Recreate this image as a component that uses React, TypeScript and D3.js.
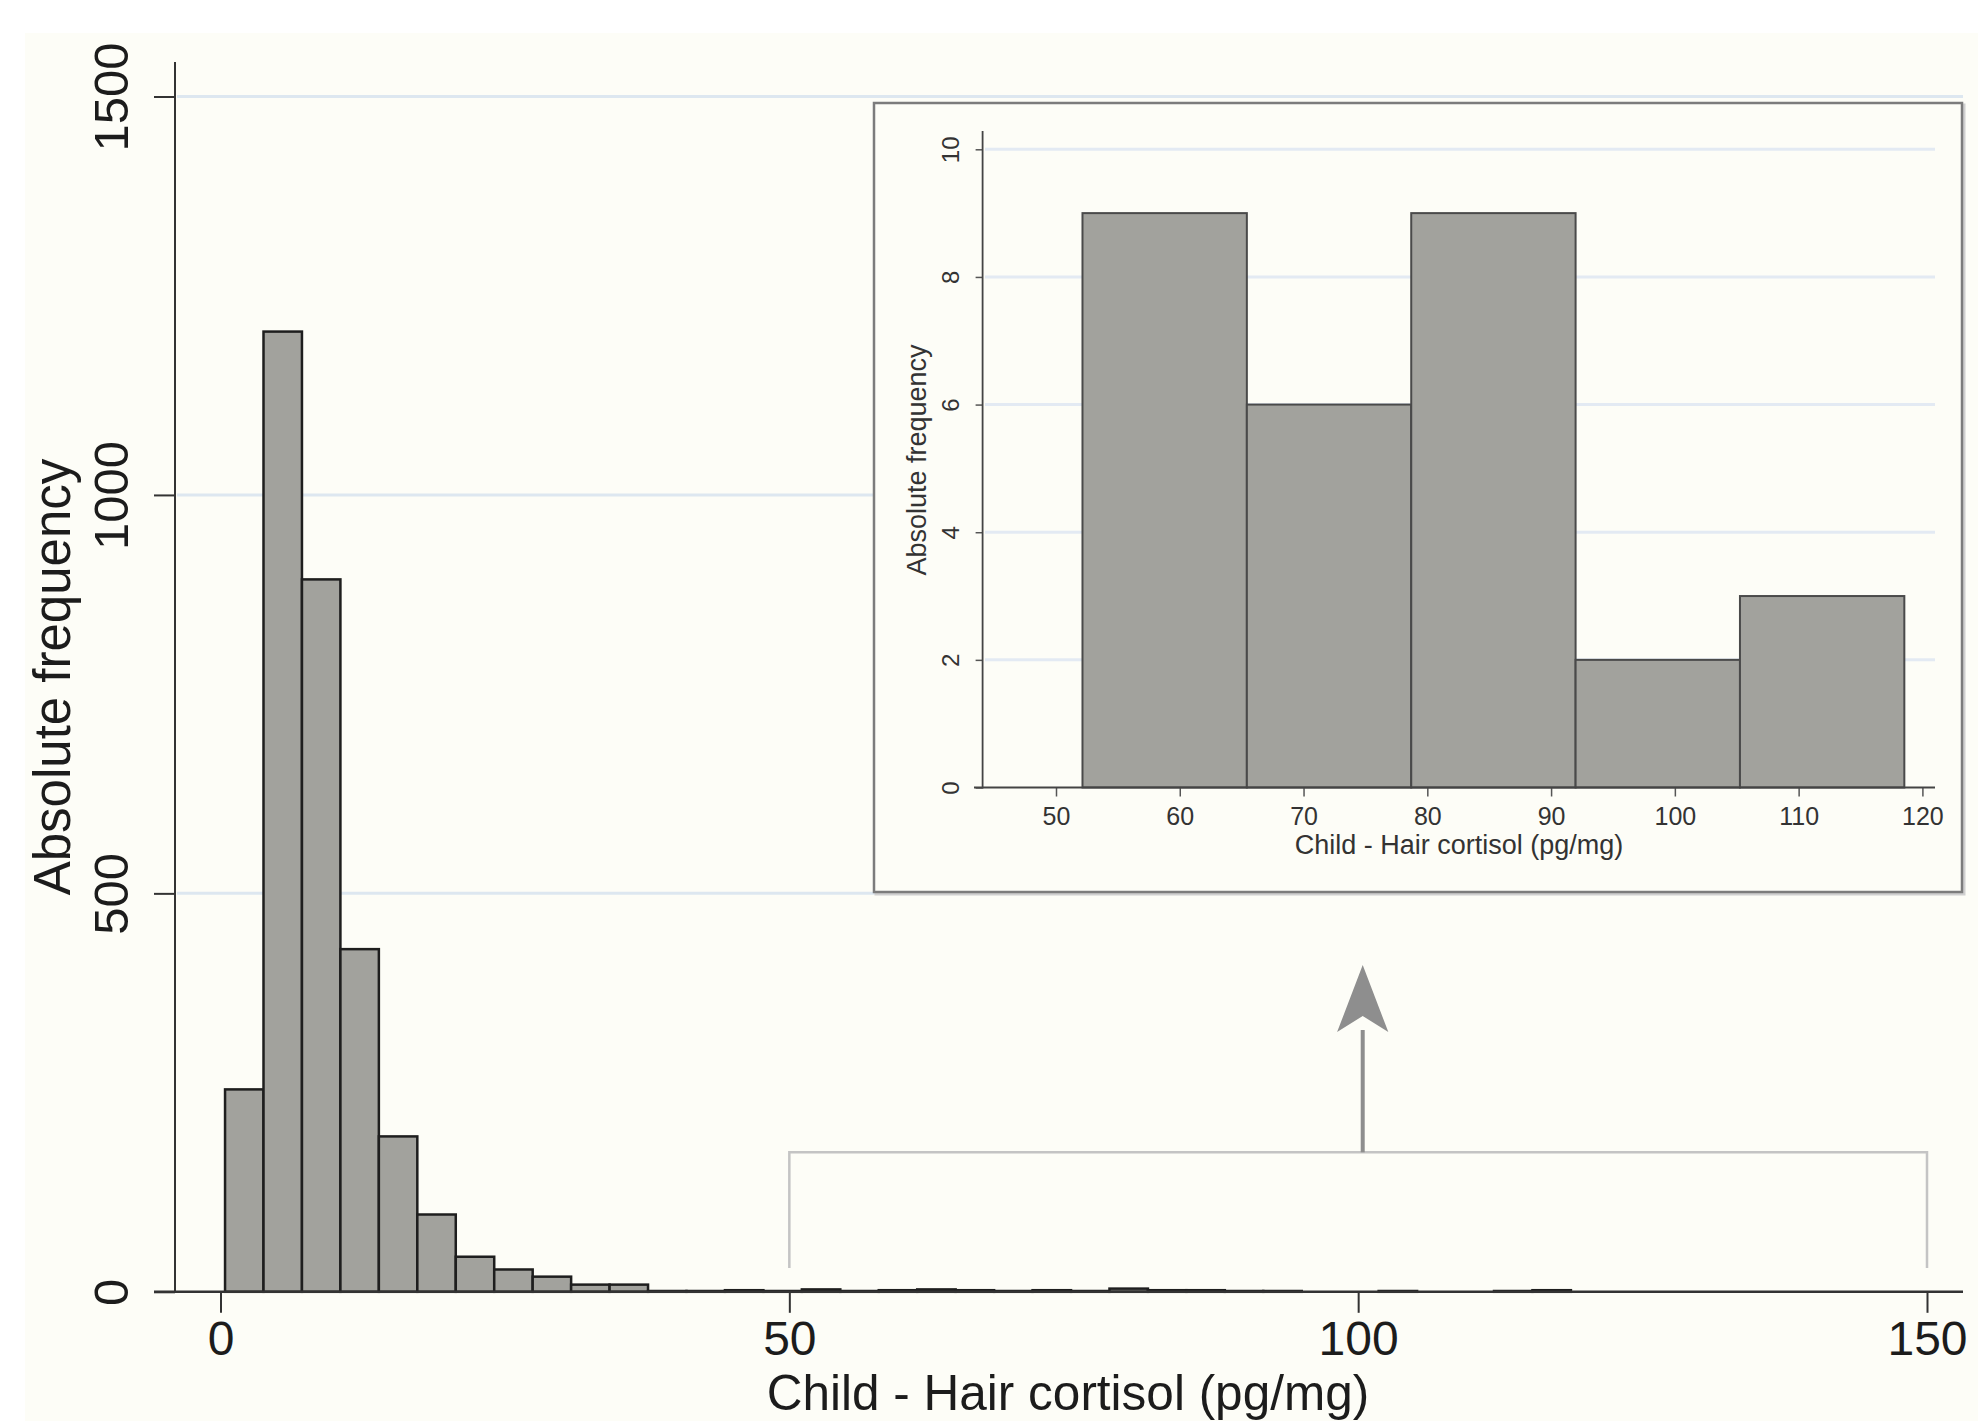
import React, { useRef, useEffect } from "react";
import * as d3 from "d3";

// Main histogram: 35 equal bins starting at the minimum value
const mainBinStart = 0.4;
const mainBinWidth = 3.38;
const mainCounts = [
  254, 1205, 894, 430, 195, 97, 44, 28, 19, 9, 9,
  1, 1, 2, 1, 3, 1, 2, 3, 2, 1, 2, 1, 4, 2, 2, 1, 1, 0, 0, 1, 0, 0, 1, 2,
];
const mainXTicks = [0, 50, 100, 150];
const mainYTicks = [0, 500, 1000, 1500];

// Inset: only the values above 50 pg/mg
const insetBinStart = 52.14;
const insetBinWidth = 13.28;
const insetCounts = [9, 6, 9, 2, 3];
const insetXTicks = [50, 60, 70, 80, 90, 100, 110, 120];
const insetYTicks = [0, 2, 4, 6, 8, 10];

const xTitle = "Child - Hair cortisol (pg/mg)";
const yTitle = "Absolute frequency";

// bracket over the tail and the arrow pointing up to the inset (data units)
const bracket = { x0: 50, x1: 150, yTop: 175, yBottom: 30 };
const arrow = { x: 100.4, y0: 175, tip: 410, headBase: 326, halfWidth: 2.25 };

const W = 1978;
const H = 1421;
const FONT = "'Liberation Sans', Arial, Helvetica, sans-serif";
const BG = "#fdfdf7";
const BAR = "#a2a29d";
const INK = "#1c1c1c";

const App = () => {
  const svgRef = useRef(null);

  useEffect(() => {
    const svg = d3.select(svgRef.current);
    svg.selectAll("*").remove();

    // graph region background
    svg.append("rect")
      .attr("x", 25).attr("y", 33)
      .attr("width", W - 25).attr("height", H - 33)
      .attr("fill", BG);

    // Scales
    const x = d3.scaleLinear().domain([0, 150]).range([220.5, 1927]);
    const y = d3.scaleLinear().domain([0, 1500]).range([1291.8, 96.5]);

    // gridlines
    svg.append("g")
      .selectAll("line")
      .data(mainYTicks.filter(d => d > 0))
      .join("line")
      .attr("x1", 177).attr("x2", 1963)
      .attr("y1", d => y(d)).attr("y2", d => y(d))
      .attr("stroke", "#dde7f0")
      .attr("stroke-width", 3);

    // bars
    const mainBins = mainCounts.map((c, i) => ({
      x0: mainBinStart + i * mainBinWidth,
      x1: mainBinStart + (i + 1) * mainBinWidth,
      count: c,
    }));
    svg.append("g")
      .selectAll("rect")
      .data(mainBins.filter(b => b.count > 0))
      .join("rect")
      .attr("x", d => x(d.x0))
      .attr("y", d => y(d.count))
      .attr("width", d => x(d.x1) - x(d.x0))
      .attr("height", d => y(0) - y(d.count))
      .attr("fill", BAR)
      .attr("stroke", "#1e1e1e")
      .attr("stroke-width", 2.5);

    // axes
    const yAxis = d3.axisLeft(y).tickValues(mainYTicks).tickSize(21).tickFormat(d3.format("d"));
    const yGroup = svg.append("g").attr("transform", "translate(175,0)").call(yAxis);
    yGroup.select(".domain").remove();
    yGroup.selectAll(".tick line").attr("stroke", "#333").attr("stroke-width", 2);
    yGroup.selectAll(".tick text")
      .attr("transform", "rotate(-90)")
      .attr("x", 0).attr("y", -47).attr("dy", 0)
      .attr("text-anchor", "middle")
      .attr("fill", INK)
      .style("font", `49px ${FONT}`);
    yGroup.append("line")
      .attr("x1", 0).attr("x2", 0).attr("y1", 62).attr("y2", 1292.8)
      .attr("stroke", "#333").attr("stroke-width", 2);

    const xAxis = d3.axisBottom(x).tickValues(mainXTicks).tickSize(21).tickFormat(d3.format("d"));
    const xGroup = svg.append("g").attr("transform", "translate(0,1291.8)").call(xAxis);
    xGroup.select(".domain").remove();
    xGroup.selectAll(".tick line").attr("stroke", "#333").attr("stroke-width", 2);
    xGroup.selectAll(".tick text")
      .attr("y", 63).attr("dy", 0)
      .attr("fill", INK)
      .style("font", `48px ${FONT}`);
    xGroup.append("line")
      .attr("x1", 154).attr("x2", 1963).attr("y1", 0).attr("y2", 0)
      .attr("stroke", "#333").attr("stroke-width", 2.5);

    svg.append("text")
      .attr("transform", `translate(70,677) rotate(-90)`)
      .attr("text-anchor", "middle")
      .attr("fill", INK)
      .style("font", `51px ${FONT}`)
      .text(yTitle);
    svg.append("text")
      .attr("x", 1068).attr("y", 1410)
      .attr("text-anchor", "middle")
      .attr("fill", INK)
      .style("font", `49.5px ${FONT}`)
      .text(xTitle);

    // bracket + arrow
    svg.append("path")
      .attr("d", d3.line()([
        [x(bracket.x0), y(bracket.yBottom)],
        [x(bracket.x0), y(bracket.yTop)],
        [x(bracket.x1), y(bracket.yTop)],
        [x(bracket.x1), y(bracket.yBottom)],
      ]))
      .attr("fill", "none")
      .attr("stroke", "#c4c4c4")
      .attr("stroke-width", 2.5);
    svg.append("line")
      .attr("x1", x(arrow.x)).attr("x2", x(arrow.x))
      .attr("y1", y(arrow.y0)).attr("y2", y(arrow.headBase) - 2)
      .attr("stroke", "#8e8e8e").attr("stroke-width", 4);
    svg.append("path")
      .attr("d", d3.line()([
        [x(arrow.x), y(arrow.tip)],
        [x(arrow.x + arrow.halfWidth), y(arrow.headBase)],
        [x(arrow.x), y(arrow.headBase + 20)],
        [x(arrow.x - arrow.halfWidth), y(arrow.headBase)],
      ]) + "Z")
      .attr("fill", "#8e8e8e");

    // ---------- Inset ----------
    const inset = svg.append("g");
    inset.append("rect")
      .attr("x", 876).attr("y", 105).attr("width", 1088).attr("height", 789)
      .attr("fill", "none").attr("stroke", "#d0d0d0").attr("stroke-width", 3);
    inset.append("rect")
      .attr("x", 874).attr("y", 103).attr("width", 1088).attr("height", 789)
      .attr("fill", BG).attr("stroke", "#7c7c7c").attr("stroke-width", 2.5);

    const ix = d3.scaleLinear().domain([50, 120]).range([1056, 1922.4]);
    const iy = d3.scaleLinear().domain([0, 10]).range([787.5, 149.3]);

    inset.append("g")
      .selectAll("line")
      .data(insetYTicks.filter(d => d > 0))
      .join("line")
      .attr("x1", 985).attr("x2", 1935)
      .attr("y1", d => iy(d)).attr("y2", d => iy(d))
      .attr("stroke", "#e3eaf3")
      .attr("stroke-width", 3);

    const insetBins = insetCounts.map((c, i) => ({
      x0: insetBinStart + i * insetBinWidth,
      x1: insetBinStart + (i + 1) * insetBinWidth,
      count: c,
    }));
    inset.append("g")
      .selectAll("rect")
      .data(insetBins)
      .join("rect")
      .attr("x", d => ix(d.x0))
      .attr("y", d => iy(d.count))
      .attr("width", d => ix(d.x1) - ix(d.x0))
      .attr("height", d => iy(0) - iy(d.count))
      .attr("fill", BAR)
      .attr("stroke", "#4a4a4a")
      .attr("stroke-width", 2);

    const iyAxis = d3.axisLeft(iy).tickValues(insetYTicks).tickSize(7).tickFormat(d3.format("d"));
    const iyGroup = inset.append("g").attr("transform", "translate(982.6,0)").call(iyAxis);
    iyGroup.select(".domain").remove();
    iyGroup.selectAll(".tick line").attr("stroke", "#555").attr("stroke-width", 1.5);
    iyGroup.selectAll(".tick text")
      .attr("transform", "rotate(-90)")
      .attr("x", 0).attr("y", -24).attr("dy", 0)
      .attr("text-anchor", "middle")
      .attr("fill", "#333")
      .style("font", `24px ${FONT}`);
    iyGroup.append("line")
      .attr("x1", 0).attr("x2", 0).attr("y1", 131).attr("y2", 788.5)
      .attr("stroke", "#444").attr("stroke-width", 1.8);

    const ixAxis = d3.axisBottom(ix).tickValues(insetXTicks).tickSize(9).tickFormat(d3.format("d"));
    const ixGroup = inset.append("g").attr("transform", "translate(0,787.5)").call(ixAxis);
    ixGroup.select(".domain").remove();
    ixGroup.selectAll(".tick line").attr("stroke", "#555").attr("stroke-width", 1.5);
    ixGroup.selectAll(".tick text")
      .attr("y", 37).attr("dy", 0)
      .attr("fill", "#333")
      .style("font", `25px ${FONT}`);
    ixGroup.append("line")
      .attr("x1", 974).attr("x2", 1935).attr("y1", 0).attr("y2", 0)
      .attr("stroke", "#444").attr("stroke-width", 2);

    inset.append("text")
      .attr("transform", `translate(926,460) rotate(-90)`)
      .attr("text-anchor", "middle")
      .attr("fill", "#333")
      .style("font", `27px ${FONT}`)
      .text(yTitle);
    inset.append("text")
      .attr("x", 1459).attr("y", 854)
      .attr("text-anchor", "middle")
      .attr("fill", "#333")
      .style("font", `27px ${FONT}`)
      .text(xTitle);
  }, []);

  return (
    <svg
      ref={svgRef}
      width={W}
      height={H}
      style={{ position: "absolute", left: 0, top: 0, display: "block", background: "#ffffff" }}
    />
  );
};

export default App;
